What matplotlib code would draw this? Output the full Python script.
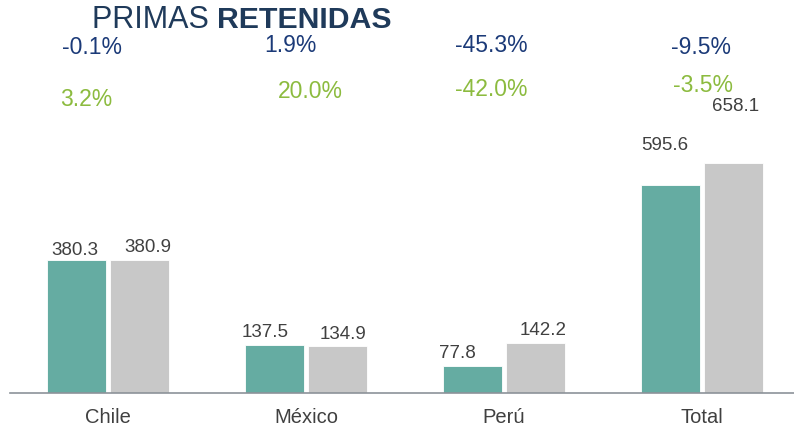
import numpy as np
import matplotlib.pyplot as plt

plt.rcParams['font.family'] = ['Liberation Sans', 'DejaVu Sans']

categories = ["Chile", "México", "Perú", "Total"]
prev_values = [380.3, 137.5, 77.8, 595.6]
curr_values = [380.9, 134.9, 142.2, 658.1]
growth_blue = ["-0.1%", "1.9%", "-45.3%", "-9.5%"]
growth_green = ["3.2%", "20.0%", "-42.0%", "-3.5%"]

teal = "#65ACA2"
grey = "#C8C8C8"
navy = "#1B3A78"
green = "#8CBB3F"
txt = "#404040"

fig = plt.figure(figsize=(7.94, 4.33), dpi=100)
ax = fig.add_axes([10 / 794, 40 / 433, 784 / 794, 393 / 433])

x = np.arange(len(categories))
w = 0.298
off = 0.161
b1 = ax.bar(x - off, prev_values, w, color=teal, edgecolor="white", linewidth=0.6)
b2 = ax.bar(x + off, curr_values, w, color=grey, edgecolor="white", linewidth=0.6)

ax.set_xlim(-0.495, 3.465)
ax.set_ylim(0, 1123)

# pixel nudges for the value labels (dx, dy)
nudge_prev = [(-1, 1), (-9, 4), (-15, 4), (-5, 31)]
nudge_curr = [(8, 4), (5, 3), (7, 4), (2, 48)]
for bars, vals, nudges in [(b1, prev_values, nudge_prev), (b2, curr_values, nudge_curr)]:
    for bar, v, (dx, dy) in zip(bars, vals, nudges):
        ax.annotate(f"{v:.1f}", (bar.get_x() + bar.get_width() / 2, v),
                    xytext=(dx * 0.72, dy * 0.72), textcoords="offset points",
                    ha="center", va="bottom", fontsize=13.5, color=txt)

for s in ["top", "right", "left"]:
    ax.spines[s].set_visible(False)
ax.spines["bottom"].set_color("#8C9299")
ax.spines["bottom"].set_linewidth(1.2)
ax.set_yticks([])
ax.set_xticks(x)
ax.set_xticklabels(categories, fontsize=14.5, color=txt)
ax.tick_params(axis="x", length=0, pad=11)

# growth percentages at the top
blue_pos = [(92, 47), (290, 45), (491, 45), (701, 48)]
green_pos = [(86, 100), (310, 92), (491, 90), (703, 85)]
for s, (px, py) in zip(growth_blue, blue_pos):
    fig.text(px / 794, 1 - py / 433, s, ha="center", va="center", fontsize=16.5, color=navy)
for s, (px, py) in zip(growth_green, green_pos):
    fig.text(px / 794, 1 - py / 433, s, ha="center", va="center", fontsize=16.5, color=green)

# title: regular + bold part
t1 = fig.text(92 / 794, 1 - 20 / 433, "PRIMAS ", ha="left", va="center",
              fontsize=22, color="#1F3A5A")
fig.canvas.draw()
bb = t1.get_window_extent()
fig.text(bb.x1 / 794, 1 - 20 / 433, "RETENIDAS", ha="left", va="center",
         fontsize=21.8, color="#1F3A5A", fontweight="bold")

fig.savefig("out.png", dpi=100)
